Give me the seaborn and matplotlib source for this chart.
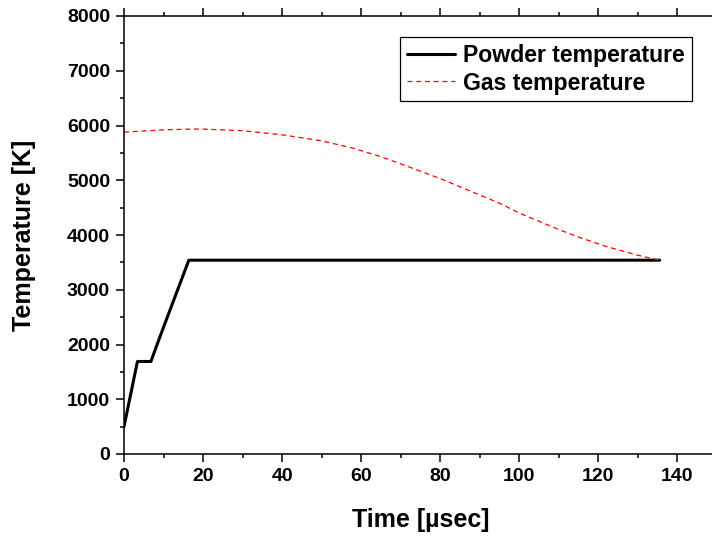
import matplotlib
matplotlib.use("Agg")
import matplotlib.pyplot as plt
import seaborn as sns
from matplotlib.ticker import MultipleLocator

# Data
powder_time = [0, 3.4, 6.8, 9.5, 16.4, 135.5]
powder_temp = [500, 1690, 1690, 2220, 3540, 3540]

gas_time = [0, 5, 10, 17, 20, 30, 40, 50, 58, 65, 70, 80, 87, 95, 100, 105, 110, 115, 122, 130, 135.5]
gas_temp = [5880, 5900, 5920, 5935, 5935, 5905, 5830, 5720, 5585, 5430, 5300, 5030, 4820, 4580, 4400, 4250, 4100, 3960, 3790, 3630, 3540]

sns.set_style("ticks")
plt.rcParams['font.family'] = ['Liberation Sans', 'DejaVu Sans']
plt.rcParams['font.weight'] = 'bold'
plt.rcParams['text.color'] = 'black'
plt.rcParams['axes.labelcolor'] = 'black'
plt.rcParams['xtick.color'] = 'black'
plt.rcParams['ytick.color'] = 'black'

fig = plt.figure(figsize=(7.12, 5.39), dpi=100)
ax = fig.add_axes([124/712, 85/539, 593/712, 438/539])

sns.lineplot(x=powder_time, y=powder_temp, ax=ax, color='black', linewidth=2.2,
             label='Powder temperature', estimator=None, sort=False)
sns.lineplot(x=gas_time, y=gas_temp, ax=ax, color='red', linewidth=0.9,
             linestyle=(0, (4, 3)), label='Gas temperature', estimator=None, sort=False)

ax.set_xlim(0, 150)
ax.set_ylim(0, 8000)
ax.set_xticks([0, 20, 40, 60, 80, 100, 120, 140])
ax.xaxis.set_minor_locator(MultipleLocator(10))
ax.yaxis.set_major_locator(MultipleLocator(1000))
ax.yaxis.set_minor_locator(MultipleLocator(500))

for s in ax.spines.values():
    s.set_linewidth(1.1)
    s.set_color('black')

ax.tick_params(which='major', direction='out', length=6, width=1.1, top=True,
               labelsize=14, pad=4, colors='black')
ax.tick_params(which='minor', direction='out', length=3, width=1.1, top=True)
for lab in ax.get_xticklabels() + ax.get_yticklabels():
    lab.set_fontweight('bold')

ax.set_xlabel('Time [µsec]', fontsize=18, fontweight='bold', labelpad=17, color='black')
ax.set_ylabel('Temperature [K]', fontsize=18, fontweight='bold', labelpad=22, color='black')

leg = ax.legend(loc='upper left',
                prop={'size': 16.6, 'weight': 'bold'}, frameon=True, fancybox=False,
                edgecolor='black', framealpha=1, handlelength=2.1, handletextpad=0.35,
                labelspacing=0.2, borderpad=0.3, borderaxespad=0)
leg.get_frame().set_linewidth(0.9)
leg.set_bbox_to_anchor(((400-124)/593, (454-37)/438), transform=ax.transAxes)
for t in leg.get_texts():
    t.set_color('black')

fig.savefig('out.png', dpi=100)
